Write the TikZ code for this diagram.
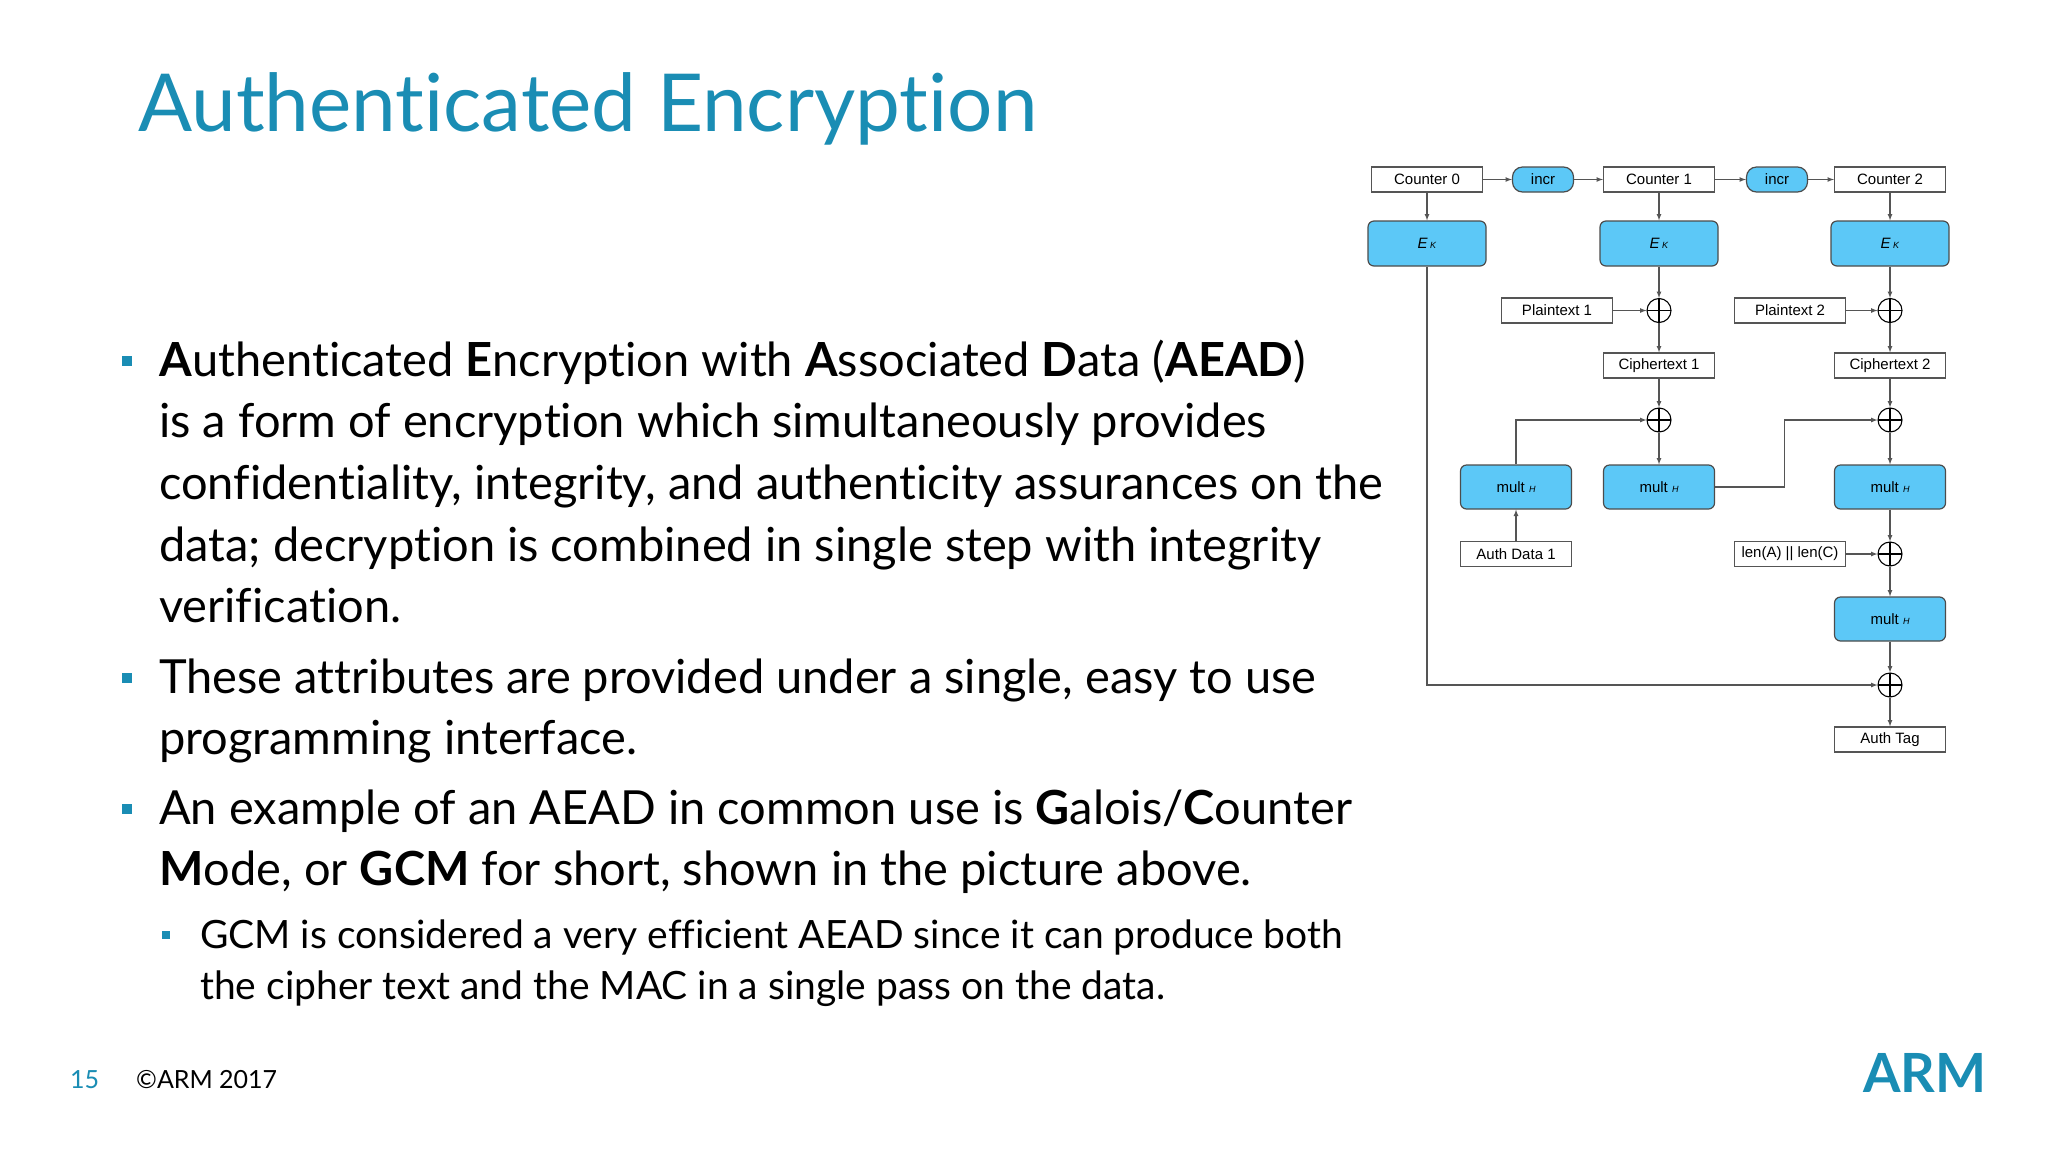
\documentclass[tikz,border=0pt]{standalone}
\usepackage{fontspec}
\setmainfont{Lato}[Ligatures={NoCommon,NoRare,NoContextual}]
\newfontfamily\dia{Liberation Sans}
\definecolor{teal}{HTML}{1A8DB4}
\definecolor{bfill}{HTML}{5CC8F7}
\definecolor{lgray}{HTML}{555555}
\newcommand{\EK}{\textit{E}\,{\fontsize{9}{10}\selectfont\textit{K}}}
\newcommand{\mH}{mult {\fontsize{9}{10}\selectfont\textit{H}}}
\begin{document}
\begin{tikzpicture}[x=1pt,y=-1pt,
  box/.style={draw=lgray,line width=1.2pt,minimum width=111pt,minimum height=25pt,inner sep=0pt,font=\dia\fontsize{15}{17}\selectfont},
  blue/.style={draw=black!70,fill=bfill,rounded corners=6pt,line width=1.2pt,inner sep=0pt,font=\dia\fontsize{15}{17}\selectfont},
  xr/.style={circle,draw=black,line width=1.1pt,minimum size=24pt,inner sep=0pt,path picture={\draw[line width=1.1pt] (path picture bounding box.north)--(path picture bounding box.south) (path picture bounding box.west)--(path picture bounding box.east);}},
  ar/.style={-latex,line width=1.2pt,draw=lgray},
  body/.style={anchor=base west,inner sep=0pt,font=\fontsize{47}{56}\selectfont},
  sub/.style={anchor=base west,inner sep=0pt,font=\fontsize{39}{46}\selectfont},
  bul/.style={fill=teal,minimum size=10pt,inner sep=0pt}]
\useasboundingbox (0,0) rectangle (2048,1152);
\fill[white] (0,0) rectangle (2048,1152);
\node[anchor=base west,inner sep=0pt,text=teal,font=\fontsize{80}{90}\selectfont] (title) at (138,131) {Authenticated Encryption};
% bullets
\node[bul] (b1) at (127,361) {};
\node[bul] (b2) at (127,678) {};
\node[bul] (b3) at (127,809) {};
\node[bul,minimum size=8pt] (b4) at (166,935) {};
\node[body] (t1) at (159,376) {\textbf{A}uthenticated \textbf{E}ncryption with \textbf{A}ssociated \textbf{D}ata (\textbf{AEAD})};
\node[body] (t2) at (159,437) {is a form of encryption which simultaneously provides};
\node[body] (t3) at (159,499) {confidentiality, integrity, and authenticity assurances on the};
\node[body] (t4) at (159,561) {data; decryption is combined in single step with integrity};
\node[body] (t5) at (159,622) {verification.};
\node[body] (t6) at (159,693) {These attributes are provided under a single, easy to use};
\node[body] (t7) at (159,754) {programming interface.};
\node[body] (t8) at (159,824) {An example of an AEAD in common use is \textbf{G}alois/\textbf{C}ounter};
\node[body] (t9) at (159,885) {\textbf{M}ode, or \textbf{GCM} for short, shown in the picture above.};
\node[sub] (s1) at (200,948) {GCM is considered a very efficient AEAD since it can produce both};
\node[sub] (s2) at (200,999) {the cipher text and the MAC in a single pass on the data.};
% footer
\node[anchor=base west,inner sep=0pt,text=teal,font=\fontsize{25}{28}\selectfont] (pg) at (70,1088) {15};
\node[anchor=base west,inner sep=0pt,font=\fontsize{25}{28}\selectfont] (cp) at (136,1088) {\textcopyright ARM 2017};
\node[anchor=base west,inner sep=0pt,text=teal,font=\fontsize{54}{60}\selectfont\bfseries] (arm) at (1863,1092) {ARM};
% diagram
\node[box] (c0) at (1427,179.5) {Counter 0};
\node[blue,minimum width=61pt,minimum height=25pt,rounded corners=10pt] (i1) at (1543,179.5) {incr};
\node[box] (c1) at (1659,179.5) {Counter 1};
\node[blue,minimum width=61pt,minimum height=25pt,rounded corners=10pt] (i2) at (1777,179.5) {incr};
\node[box] (c2) at (1890,179.5) {Counter 2};
\node[blue,minimum width=118pt,minimum height=45pt] (e0) at (1427,243.5) {\EK};
\node[blue,minimum width=118pt,minimum height=45pt] (e1) at (1659,243.5) {\EK};
\node[blue,minimum width=118pt,minimum height=45pt] (e2) at (1890,243.5) {\EK};
\node[box] (p1) at (1557,310.5) {Plaintext 1};
\node[box] (p2) at (1790,310.5) {Plaintext 2};
\node[xr] (x1) at (1659,310.5) {};
\node[xr] (x2) at (1890,310.5) {};
\node[box] (ct1) at (1659,365.5) {Ciphertext 1};
\node[box] (ct2) at (1890,365.5) {Ciphertext 2};
\node[xr] (x3) at (1659,420) {};
\node[xr] (x4) at (1890,420) {};
\node[blue,minimum width=111pt,minimum height=44pt] (m1) at (1516,487) {\mH};
\node[blue,minimum width=111pt,minimum height=44pt] (m2) at (1659,487) {\mH};
\node[blue,minimum width=111pt,minimum height=44pt] (m3) at (1890,487) {\mH};
\node[box] (ad) at (1516,554) {Auth Data 1};
\node[box] (len) at (1790,554) {len(A) || len(C)};
\node[xr] (x5) at (1890,554) {};
\node[blue,minimum width=111pt,minimum height=44pt] (m4) at (1890,619) {\mH};
\node[xr] (x6) at (1890,685) {};
\node[box] (tag) at (1890,739.5) {Auth Tag};
\draw[ar] (c0)--(i1); \draw[ar] (i1)--(c1); \draw[ar] (c1)--(i2); \draw[ar] (i2)--(c2);
\draw[ar] (c0)--(e0); \draw[ar] (c1)--(e1); \draw[ar] (c2)--(e2);
\draw[ar] (e1)--(x1); \draw[ar] (e2)--(x2);
\draw[ar] (p1)--(x1); \draw[ar] (p2)--(x2);
\draw[ar] (x1)--(ct1); \draw[ar] (x2)--(ct2);
\draw[ar] (ct1)--(x3); \draw[ar] (ct2)--(x4);
\draw[ar] (m1.north) |- (x3.west);
\draw[ar] (m2.east) -- ++(69,0) |- (x4.west);
\draw[ar] (x3)--(m2); \draw[ar] (x4)--(m3);
\draw[ar] (ad)--(m1);
\draw[ar] (m3)--(x5); \draw[ar] (len)--(x5);
\draw[ar] (x5)--(m4); \draw[ar] (m4)--(x6);
\draw[ar] (e0.south) |- (x6.west);
\draw[ar] (x6)--(tag);
\end{tikzpicture}
\end{document}
